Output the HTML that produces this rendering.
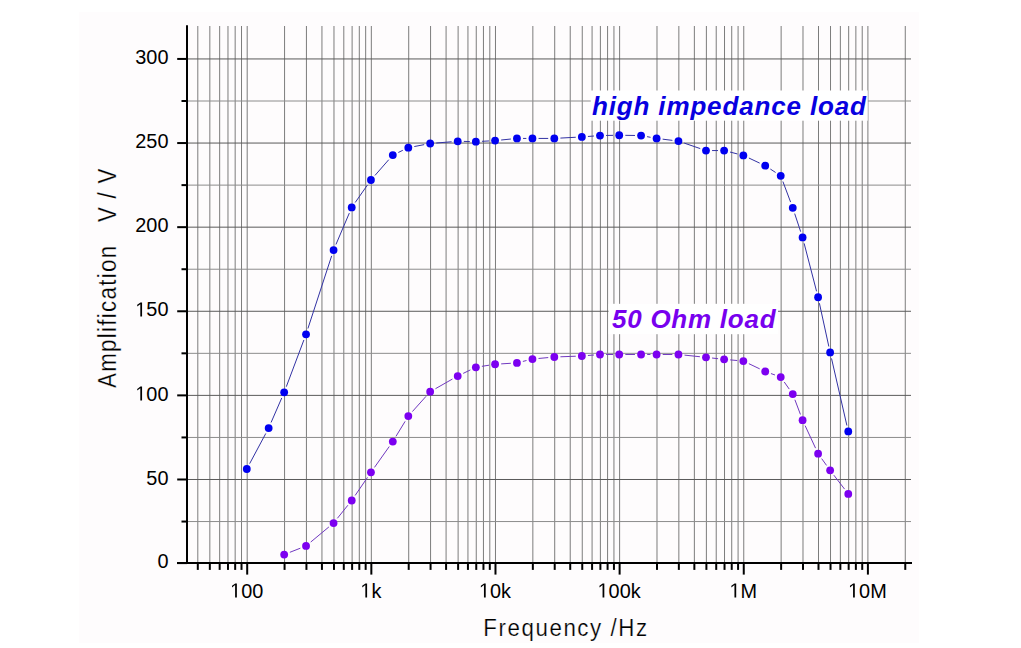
<!DOCTYPE html>
<html><head><meta charset="utf-8"><style>
html,body{margin:0;padding:0;background:#fff;width:1021px;height:648px;overflow:hidden}
svg{display:block}
text{font-family:"Liberation Sans",sans-serif}
.g{stroke:#7c7c7c;stroke-width:1.0}
.gM{stroke:#5a5a5a;stroke-width:1.0}
.gm{stroke:#8c8c8c;stroke-width:1.0}
.ax{stroke:#000;stroke-width:2}
.tk{stroke:#000;stroke-width:2}
.tl{font-size:20.3px;fill:#000}
.tx{font-size:20.5px;fill:#000}
.lab{font-weight:bold;font-style:italic;font-size:26px}
.ttl{font-size:24px;fill:#000}
</style></head><body>
<svg width="1021" height="648" viewBox="0 0 1021 648">
<rect x="79" y="12" width="840" height="631" fill="#fefcfd"/>
<line x1="197.80" y1="26" x2="197.80" y2="563.10" class="g"/>
<line x1="209.83" y1="26" x2="209.83" y2="563.10" class="g"/>
<line x1="219.66" y1="26" x2="219.66" y2="563.10" class="g"/>
<line x1="227.97" y1="26" x2="227.97" y2="563.10" class="g"/>
<line x1="235.17" y1="26" x2="235.17" y2="563.10" class="g"/>
<line x1="241.52" y1="26" x2="241.52" y2="563.10" class="g"/>
<line x1="247.20" y1="26" x2="247.20" y2="563.10" class="g"/>
<line x1="284.57" y1="26" x2="284.57" y2="563.10" class="g"/>
<line x1="306.43" y1="26" x2="306.43" y2="563.10" class="g"/>
<line x1="321.94" y1="26" x2="321.94" y2="563.10" class="g"/>
<line x1="333.97" y1="26" x2="333.97" y2="563.10" class="g"/>
<line x1="343.80" y1="26" x2="343.80" y2="563.10" class="g"/>
<line x1="352.11" y1="26" x2="352.11" y2="563.10" class="g"/>
<line x1="359.31" y1="26" x2="359.31" y2="563.10" class="g"/>
<line x1="365.66" y1="26" x2="365.66" y2="563.10" class="g"/>
<line x1="371.34" y1="26" x2="371.34" y2="563.10" class="g"/>
<line x1="408.71" y1="26" x2="408.71" y2="563.10" class="g"/>
<line x1="430.57" y1="26" x2="430.57" y2="563.10" class="g"/>
<line x1="446.08" y1="26" x2="446.08" y2="563.10" class="g"/>
<line x1="458.11" y1="26" x2="458.11" y2="563.10" class="g"/>
<line x1="467.94" y1="26" x2="467.94" y2="563.10" class="g"/>
<line x1="476.25" y1="26" x2="476.25" y2="563.10" class="g"/>
<line x1="483.45" y1="26" x2="483.45" y2="563.10" class="g"/>
<line x1="489.80" y1="26" x2="489.80" y2="563.10" class="g"/>
<line x1="495.48" y1="26" x2="495.48" y2="563.10" class="g"/>
<line x1="532.85" y1="26" x2="532.85" y2="563.10" class="g"/>
<line x1="554.71" y1="26" x2="554.71" y2="563.10" class="g"/>
<line x1="570.22" y1="26" x2="570.22" y2="563.10" class="g"/>
<line x1="582.25" y1="26" x2="582.25" y2="563.10" class="g"/>
<line x1="592.08" y1="26" x2="592.08" y2="563.10" class="g"/>
<line x1="600.39" y1="26" x2="600.39" y2="563.10" class="g"/>
<line x1="607.59" y1="26" x2="607.59" y2="563.10" class="g"/>
<line x1="613.94" y1="26" x2="613.94" y2="563.10" class="g"/>
<line x1="619.62" y1="26" x2="619.62" y2="563.10" class="g"/>
<line x1="656.99" y1="26" x2="656.99" y2="563.10" class="g"/>
<line x1="678.85" y1="26" x2="678.85" y2="563.10" class="g"/>
<line x1="694.36" y1="26" x2="694.36" y2="563.10" class="g"/>
<line x1="706.39" y1="26" x2="706.39" y2="563.10" class="g"/>
<line x1="716.22" y1="26" x2="716.22" y2="563.10" class="g"/>
<line x1="724.53" y1="26" x2="724.53" y2="563.10" class="g"/>
<line x1="731.73" y1="26" x2="731.73" y2="563.10" class="g"/>
<line x1="738.08" y1="26" x2="738.08" y2="563.10" class="g"/>
<line x1="743.76" y1="26" x2="743.76" y2="563.10" class="g"/>
<line x1="781.13" y1="26" x2="781.13" y2="563.10" class="g"/>
<line x1="802.99" y1="26" x2="802.99" y2="563.10" class="g"/>
<line x1="818.50" y1="26" x2="818.50" y2="563.10" class="g"/>
<line x1="830.53" y1="26" x2="830.53" y2="563.10" class="g"/>
<line x1="840.36" y1="26" x2="840.36" y2="563.10" class="g"/>
<line x1="848.67" y1="26" x2="848.67" y2="563.10" class="g"/>
<line x1="855.87" y1="26" x2="855.87" y2="563.10" class="g"/>
<line x1="862.22" y1="26" x2="862.22" y2="563.10" class="g"/>
<line x1="867.90" y1="26" x2="867.90" y2="563.10" class="g"/>
<line x1="905.27" y1="26" x2="905.27" y2="563.10" class="g"/>
<line x1="187" y1="521.55" x2="911" y2="521.55" class="gm"/>
<line x1="187" y1="479.49" x2="911" y2="479.49" class="gM"/>
<line x1="187" y1="437.44" x2="911" y2="437.44" class="gm"/>
<line x1="187" y1="395.38" x2="911" y2="395.38" class="gM"/>
<line x1="187" y1="353.33" x2="911" y2="353.33" class="gm"/>
<line x1="187" y1="311.27" x2="911" y2="311.27" class="gM"/>
<line x1="187" y1="269.22" x2="911" y2="269.22" class="gm"/>
<line x1="187" y1="227.16" x2="911" y2="227.16" class="gM"/>
<line x1="187" y1="185.11" x2="911" y2="185.11" class="gm"/>
<line x1="187" y1="143.05" x2="911" y2="143.05" class="gM"/>
<line x1="187" y1="101.00" x2="911" y2="101.00" class="gm"/>
<line x1="187" y1="58.94" x2="911" y2="58.94" class="gM"/>
<rect x="590.7" y="90.5" width="277" height="30.2" fill="#fff"/>
<rect x="608.5" y="303.8" width="169.5" height="30.4" fill="#fff"/>
<line x1="187" y1="25.3" x2="187" y2="564.1" class="ax"/>
<line x1="177" y1="563.10" x2="912" y2="563.10" class="ax"/>
<line x1="177.2" y1="563.10" x2="187" y2="563.10" class="tk"/>
<line x1="181.5" y1="521.55" x2="187" y2="521.55" class="tk"/>
<line x1="177.2" y1="479.49" x2="187" y2="479.49" class="tk"/>
<line x1="181.5" y1="437.44" x2="187" y2="437.44" class="tk"/>
<line x1="177.2" y1="395.38" x2="187" y2="395.38" class="tk"/>
<line x1="181.5" y1="353.33" x2="187" y2="353.33" class="tk"/>
<line x1="177.2" y1="311.27" x2="187" y2="311.27" class="tk"/>
<line x1="181.5" y1="269.22" x2="187" y2="269.22" class="tk"/>
<line x1="177.2" y1="227.16" x2="187" y2="227.16" class="tk"/>
<line x1="181.5" y1="185.11" x2="187" y2="185.11" class="tk"/>
<line x1="177.2" y1="143.05" x2="187" y2="143.05" class="tk"/>
<line x1="181.5" y1="101.00" x2="187" y2="101.00" class="tk"/>
<line x1="177.2" y1="58.94" x2="187" y2="58.94" class="tk"/>
<line x1="197.80" y1="563.10" x2="197.80" y2="569.90" class="tk"/>
<line x1="209.83" y1="563.10" x2="209.83" y2="569.90" class="tk"/>
<line x1="219.66" y1="563.10" x2="219.66" y2="569.90" class="tk"/>
<line x1="227.97" y1="563.10" x2="227.97" y2="569.90" class="tk"/>
<line x1="235.17" y1="563.10" x2="235.17" y2="569.90" class="tk"/>
<line x1="241.52" y1="563.10" x2="241.52" y2="569.90" class="tk"/>
<line x1="247.20" y1="563.10" x2="247.20" y2="574.60" class="tk"/>
<line x1="284.57" y1="563.10" x2="284.57" y2="569.90" class="tk"/>
<line x1="306.43" y1="563.10" x2="306.43" y2="569.90" class="tk"/>
<line x1="321.94" y1="563.10" x2="321.94" y2="569.90" class="tk"/>
<line x1="333.97" y1="563.10" x2="333.97" y2="569.90" class="tk"/>
<line x1="343.80" y1="563.10" x2="343.80" y2="569.90" class="tk"/>
<line x1="352.11" y1="563.10" x2="352.11" y2="569.90" class="tk"/>
<line x1="359.31" y1="563.10" x2="359.31" y2="569.90" class="tk"/>
<line x1="365.66" y1="563.10" x2="365.66" y2="569.90" class="tk"/>
<line x1="371.34" y1="563.10" x2="371.34" y2="574.60" class="tk"/>
<line x1="408.71" y1="563.10" x2="408.71" y2="569.90" class="tk"/>
<line x1="430.57" y1="563.10" x2="430.57" y2="569.90" class="tk"/>
<line x1="446.08" y1="563.10" x2="446.08" y2="569.90" class="tk"/>
<line x1="458.11" y1="563.10" x2="458.11" y2="569.90" class="tk"/>
<line x1="467.94" y1="563.10" x2="467.94" y2="569.90" class="tk"/>
<line x1="476.25" y1="563.10" x2="476.25" y2="569.90" class="tk"/>
<line x1="483.45" y1="563.10" x2="483.45" y2="569.90" class="tk"/>
<line x1="489.80" y1="563.10" x2="489.80" y2="569.90" class="tk"/>
<line x1="495.48" y1="563.10" x2="495.48" y2="574.60" class="tk"/>
<line x1="532.85" y1="563.10" x2="532.85" y2="569.90" class="tk"/>
<line x1="554.71" y1="563.10" x2="554.71" y2="569.90" class="tk"/>
<line x1="570.22" y1="563.10" x2="570.22" y2="569.90" class="tk"/>
<line x1="582.25" y1="563.10" x2="582.25" y2="569.90" class="tk"/>
<line x1="592.08" y1="563.10" x2="592.08" y2="569.90" class="tk"/>
<line x1="600.39" y1="563.10" x2="600.39" y2="569.90" class="tk"/>
<line x1="607.59" y1="563.10" x2="607.59" y2="569.90" class="tk"/>
<line x1="613.94" y1="563.10" x2="613.94" y2="569.90" class="tk"/>
<line x1="619.62" y1="563.10" x2="619.62" y2="574.60" class="tk"/>
<line x1="656.99" y1="563.10" x2="656.99" y2="569.90" class="tk"/>
<line x1="678.85" y1="563.10" x2="678.85" y2="569.90" class="tk"/>
<line x1="694.36" y1="563.10" x2="694.36" y2="569.90" class="tk"/>
<line x1="706.39" y1="563.10" x2="706.39" y2="569.90" class="tk"/>
<line x1="716.22" y1="563.10" x2="716.22" y2="569.90" class="tk"/>
<line x1="724.53" y1="563.10" x2="724.53" y2="569.90" class="tk"/>
<line x1="731.73" y1="563.10" x2="731.73" y2="569.90" class="tk"/>
<line x1="738.08" y1="563.10" x2="738.08" y2="569.90" class="tk"/>
<line x1="743.76" y1="563.10" x2="743.76" y2="574.60" class="tk"/>
<line x1="781.13" y1="563.10" x2="781.13" y2="569.90" class="tk"/>
<line x1="802.99" y1="563.10" x2="802.99" y2="569.90" class="tk"/>
<line x1="818.50" y1="563.10" x2="818.50" y2="569.90" class="tk"/>
<line x1="830.53" y1="563.10" x2="830.53" y2="569.90" class="tk"/>
<line x1="840.36" y1="563.10" x2="840.36" y2="569.90" class="tk"/>
<line x1="848.67" y1="563.10" x2="848.67" y2="569.90" class="tk"/>
<line x1="855.87" y1="563.10" x2="855.87" y2="569.90" class="tk"/>
<line x1="862.22" y1="563.10" x2="862.22" y2="569.90" class="tk"/>
<line x1="867.90" y1="563.10" x2="867.90" y2="574.60" class="tk"/>
<line x1="905.27" y1="563.10" x2="905.27" y2="569.90" class="tk"/>
<text transform="translate(157.44,568.30) scale(0.98,1)" class="tl">0</text>
<text transform="translate(146.37,484.69) scale(0.98,1)" class="tl">50</text>
<path d="M696 0L515 0L515 1237L197 1010L197 1180L530 1409L696 1409Z" transform="translate(135.31,400.58) scale(0.00971,-0.00991)" fill="#000"/>
<text transform="translate(146.37,400.58) scale(0.98,1)" class="tl">00</text>
<path d="M696 0L515 0L515 1237L197 1010L197 1180L530 1409L696 1409Z" transform="translate(135.31,316.47) scale(0.00971,-0.00991)" fill="#000"/>
<text transform="translate(146.37,316.47) scale(0.98,1)" class="tl">50</text>
<text transform="translate(135.31,232.36) scale(0.98,1)" class="tl">200</text>
<text transform="translate(135.31,148.25) scale(0.98,1)" class="tl">250</text>
<text transform="translate(135.31,64.14) scale(0.98,1)" class="tl">300</text>
<path d="M696 0L515 0L515 1237L197 1010L197 1180L530 1409L696 1409Z" transform="translate(230.11,597.50) scale(0.00971,-0.01001)" fill="#000"/>
<text transform="translate(241.17,597.50) scale(0.97,1)" class="tx">00</text>
<path d="M696 0L515 0L515 1237L197 1010L197 1180L530 1409L696 1409Z" transform="translate(360.34,597.50) scale(0.00971,-0.01001)" fill="#000"/>
<text transform="translate(371.40,597.50) scale(0.97,1)" class="tx">k</text>
<path d="M696 0L515 0L515 1237L197 1010L197 1180L530 1409L696 1409Z" transform="translate(478.95,597.50) scale(0.00971,-0.01001)" fill="#000"/>
<text transform="translate(490.01,597.50) scale(0.97,1)" class="tx">0k</text>
<path d="M696 0L515 0L515 1237L197 1010L197 1180L530 1409L696 1409Z" transform="translate(597.56,597.50) scale(0.00971,-0.01001)" fill="#000"/>
<text transform="translate(608.62,597.50) scale(0.97,1)" class="tx">00k</text>
<path d="M696 0L515 0L515 1237L197 1010L197 1180L530 1409L696 1409Z" transform="translate(729.45,597.50) scale(0.00971,-0.01001)" fill="#000"/>
<text transform="translate(740.51,597.50) scale(0.97,1)" class="tx">M</text>
<path d="M696 0L515 0L515 1237L197 1010L197 1180L530 1409L696 1409Z" transform="translate(848.06,597.50) scale(0.00971,-0.01001)" fill="#000"/>
<text transform="translate(859.12,597.50) scale(0.97,1)" class="tx">0M</text>
<line x1="249.67" y1="463.62" x2="265.79" y2="433.46" stroke="#3232a4" stroke-width="1.0"/>
<line x1="271.09" y1="422.48" x2="281.74" y2="397.97" stroke="#3232a4" stroke-width="1.0"/>
<line x1="286.32" y1="386.66" x2="303.88" y2="339.99" stroke="#3232a4" stroke-width="1.0"/>
<line x1="307.93" y1="328.48" x2="331.67" y2="255.87" stroke="#3232a4" stroke-width="1.0"/>
<line x1="335.96" y1="244.46" x2="349.32" y2="213.08" stroke="#3232a4" stroke-width="1.0"/>
<line x1="355.21" y1="202.47" x2="367.44" y2="185.02" stroke="#3232a4" stroke-width="1.0"/>
<line x1="374.96" y1="175.44" x2="388.78" y2="159.68" stroke="#3232a4" stroke-width="1.0"/>
<line x1="398.30" y1="152.47" x2="402.81" y2="150.32" stroke="#3232a4" stroke-width="1.0"/>
<line x1="414.30" y1="146.54" x2="424.18" y2="144.63" stroke="#3232a4" stroke-width="1.0"/>
<line x1="436.25" y1="143.00" x2="451.63" y2="141.77" stroke="#3232a4" stroke-width="1.0"/>
<line x1="463.81" y1="141.40" x2="469.75" y2="141.51" stroke="#3232a4" stroke-width="1.0"/>
<line x1="481.94" y1="141.31" x2="488.99" y2="140.94" stroke="#3232a4" stroke-width="1.0"/>
<line x1="501.15" y1="140.01" x2="510.87" y2="139.03" stroke="#3232a4" stroke-width="1.0"/>
<line x1="523.04" y1="138.43" x2="526.35" y2="138.43" stroke="#3232a4" stroke-width="1.0"/>
<line x1="538.55" y1="138.43" x2="548.21" y2="138.43" stroke="#3232a4" stroke-width="1.0"/>
<line x1="560.40" y1="138.09" x2="575.76" y2="137.25" stroke="#3232a4" stroke-width="1.0"/>
<line x1="587.93" y1="136.46" x2="593.91" y2="136.02" stroke="#3232a4" stroke-width="1.0"/>
<line x1="606.09" y1="135.46" x2="613.12" y2="135.33" stroke="#3232a4" stroke-width="1.0"/>
<line x1="625.32" y1="135.32" x2="634.98" y2="135.47" stroke="#3232a4" stroke-width="1.0"/>
<line x1="647.08" y1="136.67" x2="650.59" y2="137.32" stroke="#3232a4" stroke-width="1.0"/>
<line x1="662.64" y1="139.17" x2="672.40" y2="140.37" stroke="#3232a4" stroke-width="1.0"/>
<line x1="684.22" y1="143.10" x2="700.22" y2="148.58" stroke="#3232a4" stroke-width="1.0"/>
<line x1="712.09" y1="150.55" x2="718.03" y2="150.55" stroke="#3232a4" stroke-width="1.0"/>
<line x1="730.04" y1="152.05" x2="737.45" y2="153.93" stroke="#3232a4" stroke-width="1.0"/>
<line x1="748.88" y1="158.03" x2="759.70" y2="163.11" stroke="#3232a4" stroke-width="1.0"/>
<line x1="770.33" y1="169.04" x2="775.62" y2="172.48" stroke="#3232a4" stroke-width="1.0"/>
<line x1="782.88" y1="181.52" x2="790.61" y2="202.10" stroke="#3232a4" stroke-width="1.0"/>
<line x1="794.68" y1="213.60" x2="800.67" y2="231.66" stroke="#3232a4" stroke-width="1.0"/>
<line x1="804.12" y1="243.35" x2="816.57" y2="291.32" stroke="#3232a4" stroke-width="1.0"/>
<line x1="819.40" y1="303.19" x2="828.83" y2="346.50" stroke="#3232a4" stroke-width="1.0"/>
<line x1="831.50" y1="358.41" x2="846.90" y2="425.50" stroke="#3232a4" stroke-width="1.0"/>
<circle cx="246.80" cy="469.00" r="3.9" fill="#0000f0"/>
<circle cx="268.66" cy="428.07" r="3.9" fill="#0000f0"/>
<circle cx="284.17" cy="392.37" r="3.9" fill="#0000f0"/>
<circle cx="306.03" cy="334.28" r="3.9" fill="#0000f0"/>
<circle cx="333.57" cy="250.08" r="3.9" fill="#0000f0"/>
<circle cx="351.71" cy="207.47" r="3.9" fill="#0000f0"/>
<circle cx="370.94" cy="180.02" r="3.9" fill="#0000f0"/>
<circle cx="392.80" cy="155.10" r="3.9" fill="#0000f0"/>
<circle cx="408.31" cy="147.69" r="3.9" fill="#0000f0"/>
<circle cx="430.17" cy="143.48" r="3.9" fill="#0000f0"/>
<circle cx="457.71" cy="141.29" r="3.9" fill="#0000f0"/>
<circle cx="475.85" cy="141.63" r="3.9" fill="#0000f0"/>
<circle cx="495.08" cy="140.62" r="3.9" fill="#0000f0"/>
<circle cx="516.94" cy="138.43" r="3.9" fill="#0000f0"/>
<circle cx="532.45" cy="138.43" r="3.9" fill="#0000f0"/>
<circle cx="554.31" cy="138.43" r="3.9" fill="#0000f0"/>
<circle cx="581.85" cy="136.91" r="3.9" fill="#0000f0"/>
<circle cx="599.99" cy="135.56" r="3.9" fill="#0000f0"/>
<circle cx="619.22" cy="135.23" r="3.9" fill="#0000f0"/>
<circle cx="641.08" cy="135.56" r="3.9" fill="#0000f0"/>
<circle cx="656.59" cy="138.43" r="3.9" fill="#0000f0"/>
<circle cx="678.45" cy="141.12" r="3.9" fill="#0000f0"/>
<circle cx="705.99" cy="150.55" r="3.9" fill="#0000f0"/>
<circle cx="724.13" cy="150.55" r="3.9" fill="#0000f0"/>
<circle cx="743.36" cy="155.44" r="3.9" fill="#0000f0"/>
<circle cx="765.22" cy="165.71" r="3.9" fill="#0000f0"/>
<circle cx="780.73" cy="175.81" r="3.9" fill="#0000f0"/>
<circle cx="792.76" cy="207.81" r="3.9" fill="#0000f0"/>
<circle cx="802.59" cy="237.45" r="3.9" fill="#0000f0"/>
<circle cx="818.10" cy="297.23" r="3.9" fill="#0000f0"/>
<circle cx="830.13" cy="352.46" r="3.9" fill="#0000f0"/>
<circle cx="848.27" cy="431.44" r="3.9" fill="#0000f0"/>
<line x1="289.85" y1="552.31" x2="300.35" y2="548.19" stroke="#7038c0" stroke-width="1.0"/>
<line x1="310.72" y1="542.05" x2="328.88" y2="526.95" stroke="#7038c0" stroke-width="1.0"/>
<line x1="337.39" y1="518.30" x2="347.89" y2="505.24" stroke="#7038c0" stroke-width="1.0"/>
<line x1="355.15" y1="495.45" x2="367.50" y2="477.40" stroke="#7038c0" stroke-width="1.0"/>
<line x1="374.47" y1="467.39" x2="389.27" y2="446.52" stroke="#7038c0" stroke-width="1.0"/>
<line x1="395.98" y1="436.34" x2="405.13" y2="421.33" stroke="#7038c0" stroke-width="1.0"/>
<line x1="412.38" y1="411.57" x2="426.10" y2="396.25" stroke="#7038c0" stroke-width="1.0"/>
<line x1="435.47" y1="388.69" x2="452.41" y2="379.05" stroke="#7038c0" stroke-width="1.0"/>
<line x1="463.20" y1="373.39" x2="470.36" y2="369.93" stroke="#7038c0" stroke-width="1.0"/>
<line x1="481.88" y1="366.33" x2="489.05" y2="365.20" stroke="#7038c0" stroke-width="1.0"/>
<line x1="501.17" y1="363.88" x2="510.85" y2="363.28" stroke="#7038c0" stroke-width="1.0"/>
<line x1="522.86" y1="361.43" x2="526.53" y2="360.51" stroke="#7038c0" stroke-width="1.0"/>
<line x1="538.52" y1="358.47" x2="548.24" y2="357.57" stroke="#7038c0" stroke-width="1.0"/>
<line x1="560.41" y1="356.79" x2="575.75" y2="356.22" stroke="#7038c0" stroke-width="1.0"/>
<line x1="587.93" y1="355.49" x2="593.91" y2="354.99" stroke="#7038c0" stroke-width="1.0"/>
<line x1="606.09" y1="354.48" x2="613.12" y2="354.48" stroke="#7038c0" stroke-width="1.0"/>
<line x1="625.32" y1="354.48" x2="634.98" y2="354.48" stroke="#7038c0" stroke-width="1.0"/>
<line x1="647.18" y1="354.48" x2="650.49" y2="354.48" stroke="#7038c0" stroke-width="1.0"/>
<line x1="662.69" y1="354.48" x2="672.35" y2="354.48" stroke="#7038c0" stroke-width="1.0"/>
<line x1="684.52" y1="355.11" x2="699.92" y2="356.72" stroke="#7038c0" stroke-width="1.0"/>
<line x1="712.05" y1="358.02" x2="718.07" y2="358.69" stroke="#7038c0" stroke-width="1.0"/>
<line x1="730.21" y1="359.90" x2="737.28" y2="360.52" stroke="#7038c0" stroke-width="1.0"/>
<line x1="748.86" y1="363.68" x2="759.72" y2="368.86" stroke="#7038c0" stroke-width="1.0"/>
<line x1="770.96" y1="373.55" x2="774.99" y2="374.99" stroke="#7038c0" stroke-width="1.0"/>
<line x1="784.25" y1="382.03" x2="789.24" y2="389.08" stroke="#7038c0" stroke-width="1.0"/>
<line x1="794.91" y1="399.77" x2="800.44" y2="414.45" stroke="#7038c0" stroke-width="1.0"/>
<line x1="805.15" y1="425.70" x2="815.54" y2="448.14" stroke="#7038c0" stroke-width="1.0"/>
<line x1="821.67" y1="458.62" x2="826.56" y2="465.40" stroke="#7038c0" stroke-width="1.0"/>
<line x1="833.85" y1="475.18" x2="844.55" y2="489.08" stroke="#7038c0" stroke-width="1.0"/>
<circle cx="284.17" cy="554.54" r="3.9" fill="#7c00f0"/>
<circle cx="306.03" cy="545.95" r="3.9" fill="#7c00f0"/>
<circle cx="333.57" cy="523.05" r="3.9" fill="#7c00f0"/>
<circle cx="351.71" cy="500.49" r="3.9" fill="#7c00f0"/>
<circle cx="370.94" cy="472.36" r="3.9" fill="#7c00f0"/>
<circle cx="392.80" cy="441.55" r="3.9" fill="#7c00f0"/>
<circle cx="408.31" cy="416.12" r="3.9" fill="#7c00f0"/>
<circle cx="430.17" cy="391.70" r="3.9" fill="#7c00f0"/>
<circle cx="457.71" cy="376.04" r="3.9" fill="#7c00f0"/>
<circle cx="475.85" cy="367.28" r="3.9" fill="#7c00f0"/>
<circle cx="495.08" cy="364.25" r="3.9" fill="#7c00f0"/>
<circle cx="516.94" cy="362.90" r="3.9" fill="#7c00f0"/>
<circle cx="532.45" cy="359.03" r="3.9" fill="#7c00f0"/>
<circle cx="554.31" cy="357.01" r="3.9" fill="#7c00f0"/>
<circle cx="581.85" cy="356.00" r="3.9" fill="#7c00f0"/>
<circle cx="599.99" cy="354.48" r="3.9" fill="#7c00f0"/>
<circle cx="619.22" cy="354.48" r="3.9" fill="#7c00f0"/>
<circle cx="641.08" cy="354.48" r="3.9" fill="#7c00f0"/>
<circle cx="656.59" cy="354.48" r="3.9" fill="#7c00f0"/>
<circle cx="678.45" cy="354.48" r="3.9" fill="#7c00f0"/>
<circle cx="705.99" cy="357.35" r="3.9" fill="#7c00f0"/>
<circle cx="724.13" cy="359.37" r="3.9" fill="#7c00f0"/>
<circle cx="743.36" cy="361.05" r="3.9" fill="#7c00f0"/>
<circle cx="765.22" cy="371.49" r="3.9" fill="#7c00f0"/>
<circle cx="780.73" cy="377.05" r="3.9" fill="#7c00f0"/>
<circle cx="792.76" cy="394.06" r="3.9" fill="#7c00f0"/>
<circle cx="802.59" cy="420.16" r="3.9" fill="#7c00f0"/>
<circle cx="818.10" cy="453.67" r="3.9" fill="#7c00f0"/>
<circle cx="830.13" cy="470.34" r="3.9" fill="#7c00f0"/>
<circle cx="848.27" cy="493.92" r="3.9" fill="#7c00f0"/>
<text x="592" y="114.8" class="lab" fill="#0800e0" letter-spacing="0.85">high impedance load</text>
<text x="612" y="327.5" class="lab" fill="#7800ee" letter-spacing="0.75">50 Ohm load</text>
<text transform="translate(483.3,636.3) scale(0.93,1)" class="ttl" letter-spacing="1.69" stroke="#fefcfd" stroke-width="0.25">Frequency /Hz</text>
<text transform="translate(116,388) rotate(-90) scale(0.93,1.1)" class="ttl" letter-spacing="1.40" stroke="#fefcfd" stroke-width="0.25" xml:space="preserve">Amplification   V / V</text>
</svg>
</body></html>
